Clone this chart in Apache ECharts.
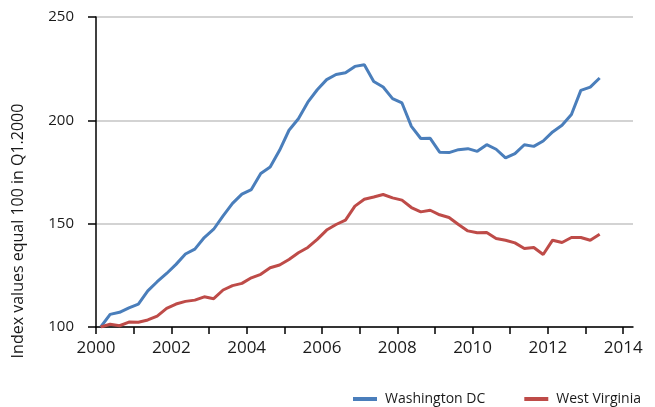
<!DOCTYPE html>
<html>
<head>
<meta charset="utf-8">
<title>House price index: Washington DC and West Virginia</title>
<script src="https://cdn.jsdelivr.net/npm/echarts@6/dist/echarts.min.js"></script>
<style>
  html, body { margin: 0; padding: 0; background: #fff; }
  #chart { width: 655px; height: 407px; }
</style>
</head>
<body>
<div id="chart"></div>
<script>
// Quarterly index, Q1 2000 = 100, from Q1 2000 to Q2 2013
const startYear = 2000;
const seriesNames = ['Washington DC', 'West Virginia'];
const washingtonDC = [
  100.0, 106.1, 107.1, 109.3, 111.1, 117.5, 121.9, 125.9, 130.3, 135.3,
  137.7, 143.3, 147.3, 153.8, 159.8, 164.3, 166.5, 174.3, 177.4, 185.5,
  195.2, 200.8, 208.8, 214.8, 219.7, 222.2, 223.0, 226.1, 226.9, 218.8,
  216.1, 210.5, 208.4, 197.1, 191.2, 191.3, 184.6, 184.4, 185.8, 186.3,
  185.0, 188.2, 186.0, 181.8, 183.9, 188.2, 187.4, 190.0, 194.4, 197.6,
  202.8, 214.5, 216.1, 220.5
];
const westVirginia = [
  100.0, 101.3, 100.6, 102.4, 102.3, 103.4, 105.3, 109.0, 111.1, 112.4,
  113.0, 114.6, 113.7, 117.9, 120.0, 121.1, 123.8, 125.5, 128.7, 130.0,
  132.7, 135.9, 138.5, 142.4, 146.9, 149.6, 151.7, 158.5, 161.8, 162.9,
  164.1, 162.5, 161.4, 157.8, 155.7, 156.5, 154.3, 153.0, 149.6, 146.5,
  145.6, 145.7, 142.8, 142.0, 140.7, 138.0, 138.5, 135.1, 142.0, 140.9,
  143.3, 143.3, 142.0, 144.9
];
const yearTicks = [2000, 2001, 2002, 2003, 2004, 2005, 2006, 2007, 2008, 2009, 2010, 2011, 2012, 2013, 2014];
const yearLabels = [2000, 2002, 2004, 2006, 2008, 2010, 2012, 2014];
const yTitle = 'Index values equal 100 in Q1.2000';

// each quarter is plotted at its midpoint in years
const toPoints = vals => vals.map((v, i) => [startYear + (i + 0.5) / 4, v]);

const font = 'Open Sans';
const textColor = '#1a1a1a';
const chart = echarts.init(document.getElementById('chart'), null, { renderer: 'canvas' });
chart.setOption({
  animation: false,
  backgroundColor: '#ffffff',
  grid: { left: 96, right: 22, top: 17, bottom: 80, containLabel: false },
  xAxis: {
    type: 'value',
    min: 2000,
    max: 2014.26,
    axisLine: { show: true, lineStyle: { color: '#000', width: 1.5 } },
    axisTick: { show: true, length: 7, customValues: yearTicks, lineStyle: { color: '#000', width: 1.5 } },
    axisLabel: {
      customValues: yearLabels,
      color: textColor, fontFamily: font, fontSize: 17, margin: 13,
      formatter: v => String(v)
    },
    splitLine: { show: false }
  },
  yAxis: {
    type: 'value',
    min: 100,
    max: 250,
    interval: 50,
    axisLine: { show: true, lineStyle: { color: '#000', width: 1.5 } },
    axisTick: { show: true, inside: false, length: 8, lineStyle: { color: '#000', width: 1.5 } },
    axisLabel: { color: textColor, fontFamily: font, fontSize: 15, margin: 22 },
    splitLine: { show: true, lineStyle: { color: '#c4c4c4', width: 1.5 } }
  },
  graphic: [{
    type: 'text',
    x: 18,
    y: 231,
    rotation: Math.PI / 2,
    style: {
      text: yTitle,
      fill: textColor,
      font: '16px "Open Sans"',
      align: 'center',
      verticalAlign: 'middle'
    }
  }],
  legend: {
    data: seriesNames,
    left: 348,
    top: 387,
    icon: 'rect',
    itemWidth: 24,
    itemHeight: 4,
    itemGap: 39,
    textStyle: { color: textColor, fontFamily: font, fontSize: 14, padding: [0, 0, 0, 3] }
  },
  series: [
    {
      name: seriesNames[0],
      type: 'line',
      data: toPoints(washingtonDC),
      showSymbol: false,
      lineStyle: { color: '#4a7ebb', width: 3 },
      itemStyle: { color: '#4a7ebb' }
    },
    {
      name: seriesNames[1],
      type: 'line',
      data: toPoints(westVirginia),
      showSymbol: false,
      lineStyle: { color: '#be4b48', width: 3 },
      itemStyle: { color: '#be4b48' }
    }
  ]
});
</script>
</body>
</html>
